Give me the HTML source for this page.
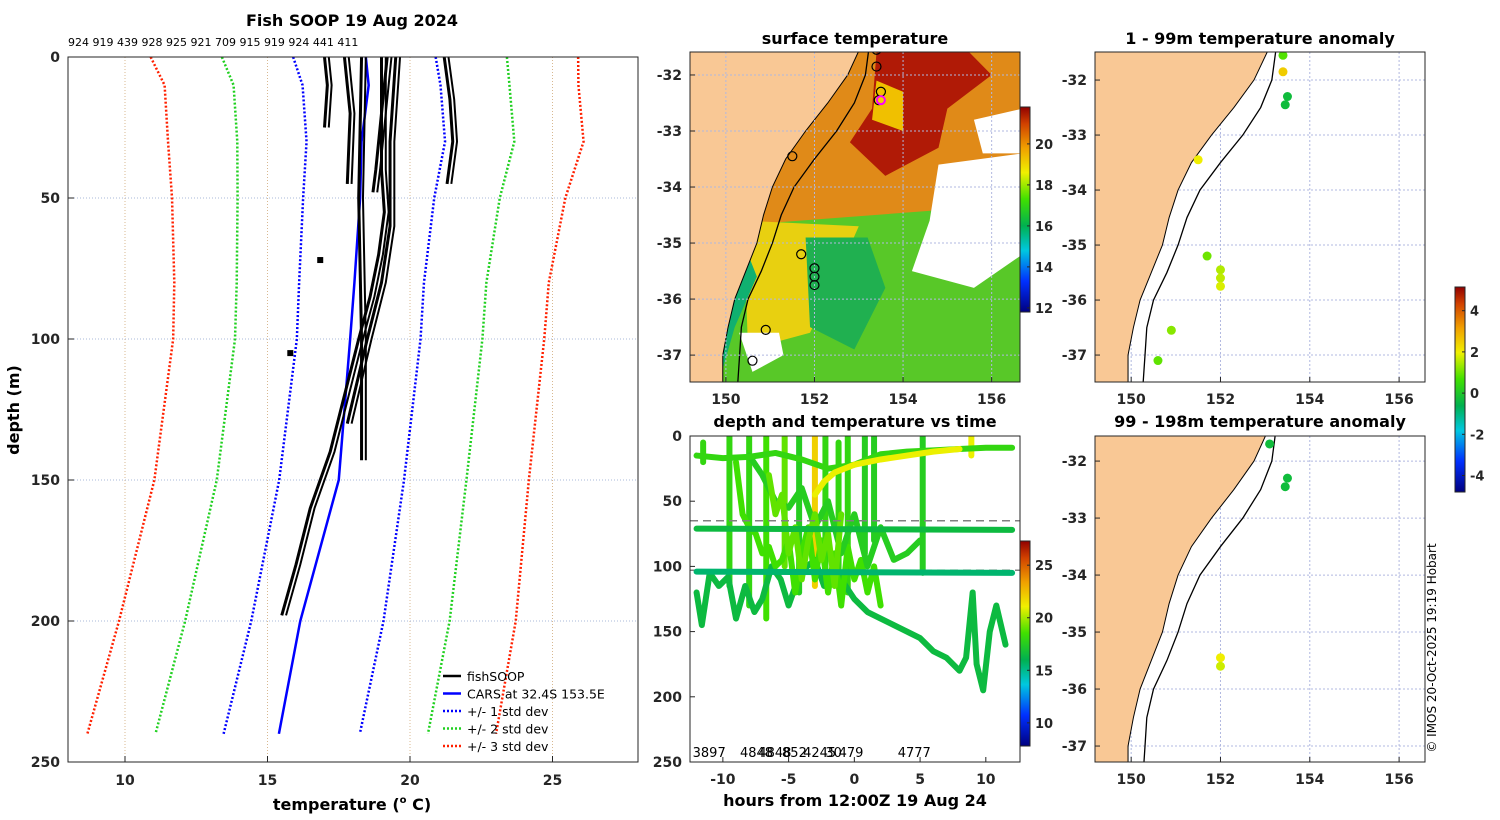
<!DOCTYPE html>
<html><head><meta charset="utf-8">
<style>
html,body{margin:0;padding:0;background:#fff;}
svg{display:block;font-family:"DejaVu Sans","Liberation Sans",sans-serif;}
.tk{font-size:14px;font-weight:bold;fill:#262626;}
.ttl{font-size:16px;font-weight:bold;fill:#000;}
</style></head>
<body>
<svg id="fig" width="1500" height="820" viewBox="0 0 1500 820" xmlns="http://www.w3.org/2000/svg">
<defs>
<linearGradient id="jet" x1="0" y1="1" x2="0" y2="0">
<stop offset="0" stop-color="#000080"/><stop offset="0.15" stop-color="#0030ff"/><stop offset="0.3" stop-color="#00c8e0"/><stop offset="0.42" stop-color="#00b050"/><stop offset="0.55" stop-color="#40e000"/><stop offset="0.68" stop-color="#f0f000"/><stop offset="0.8" stop-color="#f0a000"/><stop offset="0.92" stop-color="#d04000"/><stop offset="1" stop-color="#900000"/>
</linearGradient>
<clipPath id="clipMap"><rect x="690" y="52" width="330" height="330"/></clipPath>
<clipPath id="clipTR"><rect x="1095" y="52" width="330" height="330"/></clipPath>
<clipPath id="clipBR"><rect x="1095" y="436" width="330" height="326"/></clipPath>
<clipPath id="clipTime"><rect x="690" y="436" width="330" height="326"/></clipPath>
</defs>
<g id="root"></g>
</svg>
<script>
// ---------------- data ----------------
const profileIds = ["924","919","439","928","925","921","709","915","919","924","441","411"];
const carsDepth = [0,10,30,50,80,100,150,200,240];
const carsTemp = [18.45,18.55,18.3,18.25,18.05,17.9,17.5,16.15,15.4];
const stdCenter = [18.4,18.65,18.8,18.55,18.3,18.2,17.6,16.75,15.85];
const stdDev = [2.5,2.42,2.43,2.3,2.19,2.17,2.19,2.32,2.39];
const fishDepthA = [0,20,40,55,70,85,100,120,140,160,180,198];
const fishTempA = [19.2,19.0,19.0,19.1,18.9,18.6,18.2,17.7,17.2,16.5,16.0,15.5];
const fishDepthB = [0,20,40,48];
const fishTempB = [19.0,19.0,18.8,18.7];
const fishDepthC = [0,50,100,143];
const fishTempC = [18.3,18.2,18.3,18.3];
const fishDepthD = [0,20,45];
const fishTempD = [17.7,17.9,17.8];
const fishDepthE = [0,10,25];
const fishTempE = [17.0,17.1,17.0];
const fishDepthF = [0,15,30,45];
const fishTempF = [21.2,21.4,21.5,21.3];
const fishDepthG = [0,30,60,80,100,130];
const fishTempG = [19.5,19.3,19.3,19.0,18.5,17.8];
const blipDepth = [72,105];
const blipTemp = [16.85,15.8];
const xTicks = [10,15,20,25];
const yTicks = [0,50,100,150,200,250];

const coastLat = [-31.4,-32.0,-32.5,-33.0,-33.5,-34.0,-34.5,-35.0,-35.5,-36.0,-36.5,-37.0,-37.6];
const coastLon = [153.1,152.75,152.3,151.8,151.35,151.05,150.85,150.7,150.45,150.2,150.05,149.93,149.93];
const isoLat = [-31.4,-32.0,-32.5,-33.0,-33.5,-34.0,-34.5,-35.0,-35.5,-36.0,-36.5,-37.0,-37.6];
const isoLon = [153.25,153.15,152.9,152.5,152.0,151.54,151.25,151.05,150.8,150.5,150.35,150.31,150.26];

const stnLon = [153.4,153.4,153.5,153.45,151.5,151.7,152.0,152.0,152.0,150.9,150.6];
const stnLat = [-31.55,-31.85,-32.3,-32.45,-33.45,-35.2,-35.45,-35.6,-35.75,-36.55,-37.1];
const anomShallow = [0.8,2.5,-0.3,-0.3,2.0,1.0,1.5,1.6,1.8,1.2,0.9];
const deepLon = [153.1,153.5,153.45,152.0,152.0];
const deepLat = [-31.7,-32.3,-32.45,-35.45,-35.6];
const anomDeep = [-0.3,-0.3,-0.3,2.0,1.7];

const timeTop = {h:[-12,-10,-8,-6,-4,-2,0,2,4,6,8,10,12], d:[15,17,16,13,18,25,22,14,12,11,10,9,9], t:18};
const timeYellow = {h:[-3,-2.3,-1.5,0,2,4,6,8], d:[45,35,28,22,18,15,12,10], t:21};
const time72 = {h:[-12,12], d:[71,72], t:16.5};
const time104 = {h:[-12,12], d:[104,105], t:15.5};
const timeDeep = {h:[-12,-11.6,-11,-10.3,-9.6,-9,-8.3,-7.6,-7,-6.3,-5.6,-5,-4.3,-3.6,-3,-2.3,-1.6,-1,0,1,2,3,4,5,6,7,8,8.5,9,9.3,9.8,10.3,10.8,11.5],
                d:[120,145,105,115,108,140,115,135,125,100,110,130,110,100,95,115,100,110,125,135,140,145,150,155,165,170,180,170,120,175,195,150,130,160], t:16.5};
const timeTangle1 = {h:[-9,-8.5,-8,-7.5,-7,-6.5,-6,-5.5,-5,-4.5,-4,-3.5,-3,-2.5,-2,-1.5,-1,-0.5,0,0.5,1,1.5,2],
                d:[20,60,70,75,90,85,100,95,80,120,90,70,110,80,120,90,130,85,110,95,120,100,130], t:18.5};
const timeTangle2 = {h:[-8,-7,-6,-5,-4,-3,-2,-1,0,1,2,3,4,5],
                d:[15,30,50,55,40,70,50,90,60,100,70,95,90,80], t:17.5};
const timeTangle3 = {h:[-6.5,-6,-5.5,-5,-4.5,-4,-3.5,-3,-2.5,-2,-1.5,-1],
                d:[30,60,45,90,70,110,80,60,95,75,115,60], t:19};
const spikeH = [-11.5,-9.5,-8,-6.7,-5.3,-4.2,-3,-2.2,-1.2,-0.5,0.8,1.5,5.2,8.9];
const spikeTop = [5,0,0,0,0,0,0,0,5,0,0,0,0,0];
const spikeBot = [20,115,130,140,100,120,115,110,110,120,90,80,105,15];
const spikeTemp = [18,18,18,18.5,19,17.5,22,18,18,18,17.5,17.5,17.5,21];
const countLabels = ["3897","4848","4848","852","4245","30","479","4777"];
const countHours = [-12.3,-8.7,-7.3,-5.5,-3.9,-2.2,-1.2,3.3];
const hourTicks = [-10,-5,0,5,10];

// ---------------- helpers ----------------
const NS = "http://www.w3.org/2000/svg";
const root = document.getElementById("root");
function el(tag, attrs, parent){
  const e = document.createElementNS(NS, tag);
  for (const k in attrs) e.setAttribute(k, attrs[k]);
  (parent||root).appendChild(e);
  return e;
}
function txt(x,y,s,cls,anchor,parent){
  const t = el("text",{x:x,y:y,"class":cls||"tk","text-anchor":anchor||"middle"},parent);
  t.textContent = s; return t;
}
function jet(v){
  const st=[[0,[0,0,128]],[.15,[0,48,255]],[.3,[0,200,224]],[.42,[0,176,80]],[.55,[64,224,0]],[.68,[240,240,0]],[.8,[240,160,0]],[.92,[208,64,0]],[1,[144,0,0]]];
  v=Math.max(0,Math.min(1,v));
  for(let i=1;i<st.length;i++){ if(v<=st[i][0]){const a=st[i-1],b=st[i];const f=(v-a[0])/(b[0]-a[0]);
    return "rgb("+a[1].map((c,j)=>Math.round(c+(b[1][j]-c)*f)).join(",")+")";}}
  return "rgb(144,0,0)";
}

// ---------------- main profile panel ----------------
const P = {x0:68,x1:638,y0:57,y1:762,tmin:8,tmax:28,dmin:0,dmax:250};
const px = t => P.x0 + (t-P.tmin)/(P.tmax-P.tmin)*(P.x1-P.x0);
const py = d => P.y0 + (d-P.dmin)/(P.dmax-P.dmin)*(P.y1-P.y0);
const gMain = el("g",{});


el("rect",{x:P.x0,y:P.y0,width:P.x1-P.x0,height:P.y1-P.y0,fill:"#fff"},gMain);
xTicks.forEach(t=>{ el("line",{x1:px(t),x2:px(t),y1:P.y0,y2:P.y1,stroke:"#d8b890","stroke-width":1,"stroke-dasharray":"1,2"},gMain);});
yTicks.forEach(d=>{ el("line",{x1:P.x0,x2:P.x1,y1:py(d),y2:py(d),stroke:"#a8b8d8","stroke-width":1,"stroke-dasharray":"1,2"},gMain);});
function poly(ts,ds,attrs,name){
  const p = el("polyline",Object.assign({points:ts.map((t,i)=>px(t)+","+py(ds[i])).join(" "),fill:"none"},attrs),gMain);
  
  
  return p;
}
const stdCols = ["#0000ff","#20d020","#ff2000"];
[1,2,3].forEach(k=>{
  poly(stdCenter.map((m,i)=>m-k*stdDev[i]),carsDepth,{stroke:stdCols[k-1],"stroke-width":2.5,"stroke-dasharray":"2,2"},"std-minus-"+k);
  poly(stdCenter.map((m,i)=>m+k*stdDev[i]),carsDepth,{stroke:stdCols[k-1],"stroke-width":2.5,"stroke-dasharray":"2,2"},"std-plus-"+k);
});
poly(carsTemp,carsDepth,{stroke:"#0000ff","stroke-width":2.5},"cars-profile");
[[fishTempA,fishDepthA],[fishTempB,fishDepthB],[fishTempC,fishDepthC],[fishTempD,fishDepthD],[fishTempE,fishDepthE],[fishTempF,fishDepthF],[fishTempG,fishDepthG]].forEach((p,i)=>{
  poly(p[0],p[1],{stroke:"#000","stroke-width":3,"stroke-linejoin":"round"},"fishsoop-profile-"+i);
  poly(p[0].map(t=>t+0.15),p[1],{stroke:"#000","stroke-width":2},"fishsoop-profile-dup-"+i);
});
blipTemp.forEach((t,i)=>{
  const r=el("rect",{x:px(t)-3,y:py(blipDepth[i])-3,width:6,height:6,fill:"#000"},gMain);
  
  
});
el("rect",{x:P.x0,y:P.y0,width:P.x1-P.x0,height:P.y1-P.y0,fill:"none",stroke:"#262626","stroke-width":1},gMain);
xTicks.forEach(t=>{ el("line",{x1:px(t),x2:px(t),y1:P.y1,y2:P.y1-6,stroke:"#262626"},gMain); txt(px(t),P.y1+23,String(t),"tk","middle",gMain);});
yTicks.forEach(d=>{ el("line",{x1:P.x0,x2:P.x0+6,y1:py(d),y2:py(d),stroke:"#262626"},gMain); txt(P.x0-8,py(d)+5,String(d),"tk","end",gMain);});
const xt = txt(352,810,"temperature (","ttl","middle",gMain);
xt.innerHTML = 'temperature (<tspan font-size="10" dy="-7">o</tspan><tspan dy="7"> C)</tspan>';


const yt = txt(0,0,"depth (m)","ttl","middle",gMain);
yt.setAttribute("transform","translate(19,410) rotate(-90)");


const mt = txt(352,26,"Fish SOOP 19 Aug 2024","ttl","middle",gMain);


const ids = txt(68,46,profileIds.join(" "),"tk","start",gMain);
ids.setAttribute("style","font-size:11px;font-weight:normal;fill:#000");


// legend
const legItems = [["fishSOOP","#000",""],["CARS at 32.4S 153.5E","#0000ff",""],["+/- 1 std dev","#0000ff","2,2"],["+/- 2 std dev","#20d020","2,2"],["+/- 3 std dev","#ff2000","2,2"]];
legItems.forEach((it,i)=>{
  const y = 676 + i*17.5;
  const g = el("g",{},gMain);
  
  
  el("line",{x1:443,x2:461,y1:y,y2:y,stroke:it[1],"stroke-width":2.5,"stroke-dasharray":it[2]||"none"},g);
  const t = txt(467,y+5,it[0],"tk","start",g);
  t.setAttribute("style","font-size:12.5px;font-weight:normal;fill:#000");
});

// ---------------- map helper ----------------
function mapper(x0,y0,w,h,lonMin,lonMax,latTop,latBot){
  return {x:lon=>x0+(lon-lonMin)/(lonMax-lonMin)*w, y:lat=>y0+(latTop-lat)/(latTop-latBot)*h, x0,y0,w,h};
}
function drawLand(M,g){
  const pts = coastLat.map((la,i)=>M.x(coastLon[i])+","+M.y(la));
  pts.push(M.x(140)+","+M.y(-37.6)); pts.push(M.x(140)+","+M.y(-31.4));
  const land = el("polygon",{points:pts.join(" "),fill:"#f9c895",stroke:"#000","stroke-width":1},g);
  
  
  const iso = el("polyline",{points:isoLat.map((la,i)=>M.x(isoLon[i])+","+M.y(la)).join(" "),fill:"none",stroke:"#000","stroke-width":1.3},g);
  
  
}
function mapFrame(M,g,lats){
  [150,152,154,156].forEach(l=>{ el("line",{x1:M.x(l),x2:M.x(l),y1:M.y0,y2:M.y0+M.h,stroke:"#b0b8e0","stroke-width":1,"stroke-dasharray":"2,2"},g);});
  lats.forEach(l=>{ el("line",{x1:M.x0,x2:M.x0+M.w,y1:M.y(l),y2:M.y(l),stroke:"#b0b8e0","stroke-width":1,"stroke-dasharray":"2,2"},g);});
}
function mapAxes(M,g,lats,lonLabels){
  el("rect",{x:M.x0,y:M.y0,width:M.w,height:M.h,fill:"none",stroke:"#262626"},g);
  lats.forEach(l=>{ el("line",{x1:M.x0,x2:M.x0+5,y1:M.y(l),y2:M.y(l),stroke:"#262626"},g); txt(M.x0-8,M.y(l)+5,String(l),"tk","end",g);});
  [150,152,154,156].forEach(l=>{ el("line",{x1:M.x(l),x2:M.x(l),y1:M.y0+M.h,y2:M.y0+M.h-5,stroke:"#262626"},g); if(lonLabels) txt(M.x(l),M.y0+M.h+22,String(l),"tk","middle",g);});
}
const lats = [-32,-33,-34,-35,-36,-37];

// ---------------- surface temperature map ----------------
const M1 = mapper(690,52,330,330,149.19,156.64,-31.59,-37.48);
const g1 = el("g",{});


const g1c = el("g",{"clip-path":"url(#clipMap)"},g1);
el("rect",{x:690,y:52,width:330,height:330,fill:"#e08a18"},g1c);
function region(pts,fill,g){ el("polygon",{points:pts.map(p=>M1.x(p[0])+","+M1.y(p[1])).join(" "),fill:fill},g); }
region([[150,-34.7],[156.7,-34.3],[156.7,-37.6],[149.5,-37.6]],"#58c828",g1c);
region([[150.4,-34.6],[153,-34.7],[152.5,-35.6],[151.9,-36.6],[150.5,-36.9]],"#e8d010",g1c);
region([[151.8,-34.9],[153.2,-34.9],[153.6,-35.8],[152.9,-36.9],[151.9,-36.5]],"#20b050",g1c);
region([[154.8,-33.6],[156.7,-33.4],[156.7,-35.2],[155.6,-35.8],[154.2,-35.5],[154.6,-34.6]],"#ffffff",g1c);
region([[155.6,-32.8],[156.7,-32.6],[156.7,-33.4],[155.8,-33.4]],"#ffffff",g1c);
region([[150.3,-36.6],[151.2,-36.6],[151.3,-37.0],[150.6,-37.3]],"#ffffff",g1c);
region([[153.4,-31.6],[155.5,-31.6],[156.0,-32.0],[155.0,-32.6],[154.8,-33.3],[153.6,-33.8],[152.8,-33.2],[153.3,-32.6]],"#b01a06",g1c);
region([[153.4,-32.1],[154.0,-32.3],[154.0,-33.0],[153.3,-32.8]],"#f0c000",g1c);
region([[149.8,-35.5],[150.4,-35.0],[150.7,-35.6],[150.2,-36.5],[149.8,-37.6]],"#10b070",g1c);
drawLand(M1,g1c);
mapFrame(M1,g1c,lats);
stnLon.forEach((lo,i)=>{
  const c = el("circle",{cx:M1.x(lo),cy:M1.y(stnLat[i]),r:4.5,fill:"none",stroke:"#000","stroke-width":1.2},g1c);
  
  
});
const mag = el("circle",{cx:M1.x(153.5),cy:M1.y(-32.45),r:4,fill:"#f0d000",stroke:"#ff00ff","stroke-width":2},g1c);


mapAxes(M1,g1,lats,true);
txt(855,44,"surface temperature","ttl","middle",g1);
function colorbar(x,y,w,h,vmin,vmax,ticks,name){
  const g = el("g",{});
  
  
  el("rect",{x:x,y:y,width:w,height:h,fill:"url(#jet)",stroke:"#262626","stroke-width":1},g);
  ticks.forEach(t=>{ const yy=y+h-(t-vmin)/(vmax-vmin)*h;
    el("line",{x1:x+w-3,x2:x+w,y1:yy,y2:yy,stroke:"#262626"},g);
    const tt=txt(x+w+5,yy+5,String(t),"tk","start",g); tt.setAttribute("style","font-size:13px");});
}
colorbar(1020,107,10,205,11.8,21.8,[12,14,16,18,20],"surface-temp-colorbar");

// ---------------- depth/temperature vs time ----------------
const T = {x0:690,y0:436,w:330,h:326,hmin:-12.5,hmax:12.6,dmax:250};
const tx = h => T.x0 + (h-T.hmin)/(T.hmax-T.hmin)*T.w;
const ty = d => T.y0 + d/T.dmax*T.h;
const tcol = t => jet((t-7.8)/(27.3-7.8));
const g2 = el("g",{});


const g2c = el("g",{"clip-path":"url(#clipTime)"},g2);
function tline(s,name){
  const p = el("polyline",{points:s.h.map((h,i)=>tx(h)+","+ty(s.d[i])).join(" "),fill:"none",stroke:tcol(s.t),"stroke-width":6,"stroke-linecap":"round","stroke-linejoin":"round"},g2c);
  
  
}
spikeH.forEach((h,i)=>{
  const l = el("line",{x1:tx(h),x2:tx(h),y1:ty(spikeTop[i]),y2:ty(spikeBot[i]),stroke:tcol(spikeTemp[i]),"stroke-width":6,"stroke-linecap":"round"},g2c);
  
  
});
tline(timeDeep,"deep-track");
tline(timeTangle1,"tangle-track-1");
tline(timeTangle2,"tangle-track-2");
tline(timeTangle3,"tangle-track-3");
tline(timeTop,"surface-track");
tline(timeYellow,"warm-track");
[65,103].forEach(d=>{ el("line",{x1:T.x0,x2:T.x0+T.w,y1:ty(d),y2:ty(d),stroke:"#808080","stroke-width":1.5,"stroke-dasharray":"8,5"},g2c);});
tline(time72,"mixed-layer-track");
tline(time104,"deep-level-track");
el("rect",{x:T.x0,y:T.y0,width:T.w,height:T.h,fill:"none",stroke:"#262626"},g2);
hourTicks.forEach(h=>{ el("line",{x1:tx(h),x2:tx(h),y1:T.y0+T.h,y2:T.y0+T.h-5,stroke:"#262626"},g2); txt(tx(h),T.y0+T.h+22,String(h),"tk","middle",g2);});
[0,50,100,150,200,250].forEach(d=>{ el("line",{x1:T.x0,x2:T.x0+5,y1:ty(d),y2:ty(d),stroke:"#262626"},g2); txt(T.x0-8,ty(d)+5,String(d),"tk","end",g2);});
countLabels.forEach((s,i)=>{ const t=txt(tx(countHours[i]),757,s,"tk","start",g2); t.setAttribute("style","font-size:13px;font-weight:normal;fill:#000");});
txt(855,427,"depth and temperature vs time","ttl","middle",g2);
txt(855,806,"hours from 12:00Z 19 Aug 24","ttl","middle",g2);
colorbar(1020,541,10,205,7.8,27.3,[10,15,20,25],"time-temp-colorbar");

// ---------------- anomaly maps ----------------
function anomMap(M,clip,lonA,latA,vals,title,ty0,name,lonLabels,latsU){
  const g = el("g",{});
  
  
  const gc = el("g",{"clip-path":"url("+clip+")"},g);
  el("rect",{x:M.x0,y:M.y0,width:M.w,height:M.h,fill:"#fff"},gc);
  mapFrame(M,gc,latsU);
  drawLand(M,gc);
  lonA.forEach((lo,i)=>{
    const c = el("circle",{cx:M.x(lo),cy:M.y(latA[i]),r:4.5,fill:jet((vals[i]+4.8)/(5.15+4.8))},gc);
    
    
  });
  mapAxes(M,g,latsU,lonLabels);
  txt(1260,ty0,title,"ttl","middle",g);
}
const M2 = mapper(1095,52,330,330,149.19,156.58,-31.49,-37.49);
anomMap(M2,"#clipTR",stnLon,stnLat,anomShallow,"1 - 99m temperature anomaly",44,"shallow-anomaly-map",true,lats);
const M3 = mapper(1095,436,330,326,149.19,156.58,-31.56,-37.28);
anomMap(M3,"#clipBR",deepLon,deepLat,anomDeep,"99 - 198m temperature anomaly",427,"deep-anomaly-map",true,lats);
colorbar(1455,287,10,205,-4.8,5.15,[-4,-2,0,2,4],"anomaly-colorbar");
const cr = txt(0,0,"© IMOS 20-Oct-2025 19:19 Hobart","tk","middle");
cr.setAttribute("transform","translate(1436,648) rotate(-90)");
cr.setAttribute("style","font-size:12px;font-weight:normal;fill:#000");


</script>
</body></html>
